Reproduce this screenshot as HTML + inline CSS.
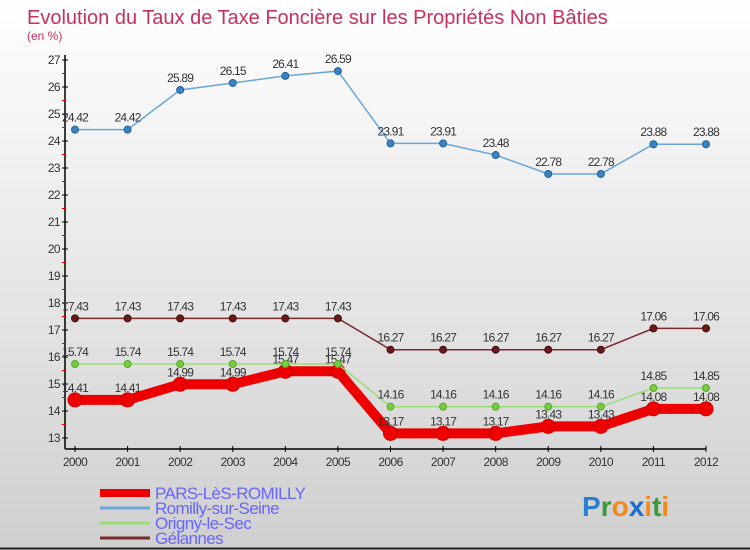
<!DOCTYPE html>
<html><head><meta charset="utf-8"><style>
body{margin:0}
#c{width:750px;height:550px;position:relative;background:linear-gradient(#ffffff,#cfcfcf);font-family:"Liberation Sans",sans-serif;overflow:hidden}
</style></head><body>
<div id="c">
<svg id="s" width="750" height="550">
<text x="27" y="24" font-size="20" fill="#c8305e" font-family="Liberation Sans Narrow, Liberation Sans, sans-serif">Evolution du Taux de Taxe Foncière sur les Propriétés Non Bâties</text>
<text x="27" y="40" font-size="12" fill="#c8305e">(en %)</text>
<line x1="0" y1="548.5" x2="750" y2="548.5" stroke="#222" stroke-width="2"/>
<g id="axes"></g><g id="series"></g><g id="legend"></g>
<text x="582" y="516" font-size="28" font-family="Liberation Sans, sans-serif" font-weight="bold"><tspan fill="#2a7fd0">P</tspan><tspan fill="#3a9a3a">r</tspan><tspan fill="#f08a20">o</tspan><tspan fill="#1a6fd0">x</tspan><tspan fill="#f08a20">i</tspan><tspan fill="#3a9a3a">t</tspan><tspan fill="#f08a20">i</tspan></text>
</svg></div>
<script>
const years=[2000,2001,2002,2003,2004,2005,2006,2007,2008,2009,2010,2011,2012];
const yTicks=[13,14,15,16,17,18,19,20,21,22,23,24,25,26,27];
const pars=[14.41,14.41,14.99,14.99,15.47,15.47,13.17,13.17,13.17,13.43,13.43,14.08,14.08];
const romilly=[24.42,24.42,25.89,26.15,26.41,26.59,23.91,23.91,23.48,22.78,22.78,23.88,23.88];
const origny=[15.74,15.74,15.74,15.74,15.74,15.74,14.16,14.16,14.16,14.16,14.16,14.85,14.85];
const gelannes=[17.43,17.43,17.43,17.43,17.43,17.43,16.27,16.27,16.27,16.27,16.27,17.06,17.06];
const NS="http://www.w3.org/2000/svg";
const X=i=>75+i*(706-75)/12;
const Y=v=>438-(v-13)*27;
function mk(tag,at,parent){const e=document.createElementNS(NS,tag);for(const k in at)e.setAttribute(k,at[k]);parent.appendChild(e);return e;}
const ax=document.getElementById('axes');
let e=mk('line',{x1:65,y1:55,x2:65,y2:449,stroke:'#000','stroke-width':1.5},ax);


e=mk('line',{x1:65,y1:449,x2:706,y2:449,stroke:'#000','stroke-width':1.5},ax);


yTicks.forEach(t=>{
  mk('line',{x1:62,y1:Y(t),x2:68,y2:Y(t),stroke:'#000'},ax);
  if(t<27)mk('line',{x1:62,y1:Y(t+0.5),x2:65,y2:Y(t+0.5),stroke:'#e00'},ax);
  const tx=mk('text',{x:60,y:Y(t)+4,'font-size':12,fill:'#333','text-anchor':'end','letter-spacing':'-0.6'},ax);
  tx.textContent=t;
  
  
});
years.forEach((y,i)=>{
  mk('line',{x1:X(i),y1:446,x2:X(i),y2:452,stroke:'#000'},ax);
  const tx=mk('text',{x:X(i),y:466,'font-size':12,fill:'#333','text-anchor':'middle','letter-spacing':'-0.6'},ax);
  tx.textContent=y;
  
  
});
const sg=document.getElementById('series');
const series=[
 {name:'PARS-LèS-ROMILLY',d:pars,c:'#ee0000',w:10,r:7,mc:'#ee0000',ms:'#cc0000',key:'pars'},
 {name:'Romilly-sur-Seine',d:romilly,c:'#6aa6d8',w:1.5,r:3.5,mc:'#3b84c4',ms:'#1f5f99',key:'romilly'},
 {name:'Origny-le-Sec',d:origny,c:'#99dd77',w:1.5,r:3.5,mc:'#77cc44',ms:'#55aa22',key:'origny'},
 {name:'Gélannes',d:gelannes,c:'#7a2a2a',w:1.5,r:3.5,mc:'#6a1a1a',ms:'#4a0a0a',key:'gelannes'}
];
series.forEach(s=>{
  const g=mk('g',{},sg);
  
  
  const p=mk('polyline',{points:s.d.map((v,i)=>X(i)+','+Y(v)).join(' '),fill:'none',stroke:s.c,'stroke-width':s.w},g);
  
  
  s.d.forEach((v,i)=>{
    const c=mk('circle',{cx:X(i),cy:Y(v),r:s.r,fill:s.mc,stroke:s.ms,'stroke-width':1},g);
    
    
    const t=mk('text',{x:X(i),y:Y(v)-8,'font-size':12,fill:'#333','text-anchor':'middle','letter-spacing':'-0.8'},g);
    t.textContent=v;
    
    
  });
});
const lg=document.getElementById('legend');
series.forEach((s,i)=>{
  const y=493+i*15;
  const g=mk('g',{},lg);
  
  
  mk('line',{x1:100,y1:y,x2:150,y2:y,stroke:s.c,'stroke-width':i==0?8:3},g);
  const t=mk('text',{x:155,y:y+6,'font-size':17,fill:'#6666ff','font-family':'Liberation Sans Narrow, Liberation Sans, sans-serif','letter-spacing':'-0.6'},g);
  t.textContent=s.name;
});
</script>
</body></html>
